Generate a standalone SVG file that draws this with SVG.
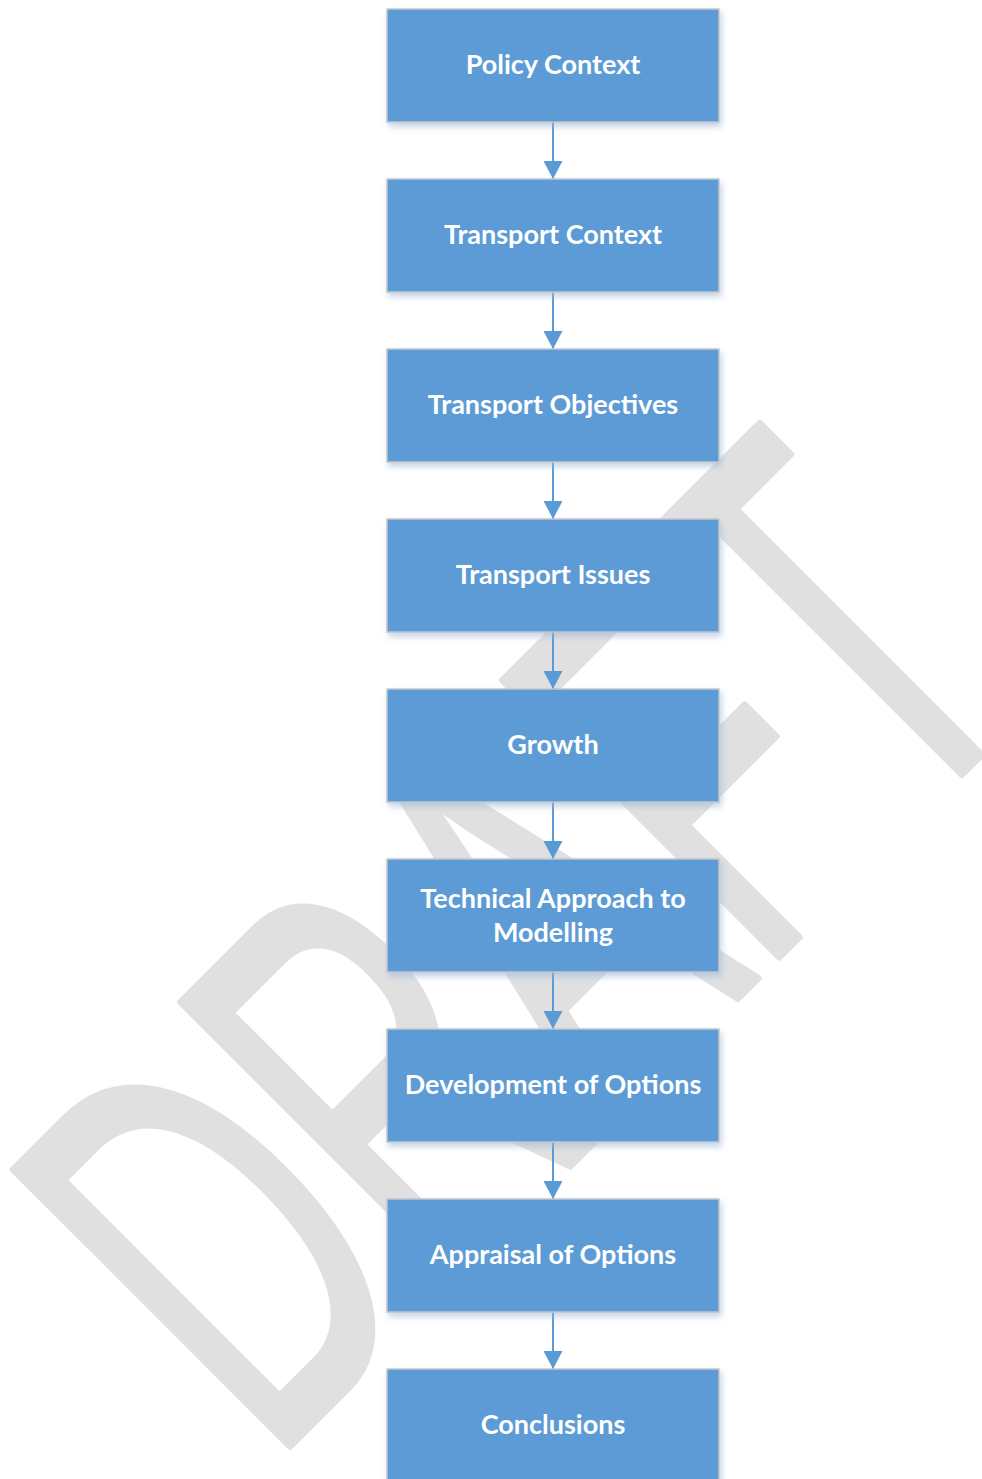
<svg xmlns="http://www.w3.org/2000/svg" width="982" height="1479" viewBox="0 0 982 1479">
<defs>
<style>
.box{fill:#5b9bd5;stroke:#c4c8cc;stroke-width:1.5;filter:url(#sh)}
.lbl{font-family:Lato,"Open Sans","Liberation Sans",sans-serif;font-weight:bold;font-size:27px;fill:#ffffff;text-anchor:middle}
.con{stroke:#5b9bd5;stroke-width:2;fill:none;marker-end:url(#ah)}
.wm{font-family:"Liberation Sans",Arial,sans-serif;font-size:568px;fill:#e0e0e0;stroke:#e0e0e0;stroke-width:6;stroke-linejoin:round}
</style>
<filter id="sh" x="-10%" y="-10%" width="125%" height="140%">
<feDropShadow dx="2" dy="4" stdDeviation="3" flood-color="#9fb7d8" flood-opacity="0.6"/>
</filter>
<marker id="ah" viewBox="0 0 18 19" refX="18" refY="9.5" markerWidth="18" markerHeight="19" markerUnits="userSpaceOnUse" orient="auto">
<path d="M0,0 L18,9.5 L0,19 z" fill="#5b9bd5"/>
</marker>
</defs>
<rect width="982" height="1479" fill="#ffffff"/>
<g id="watermark">
<text class="wm" vector-effect="non-scaling-stroke" transform="translate(270,1466) rotate(-45) scale(0.577,1)" x="0" y="0">DRAFT</text>
</g>
<g id="connectors">
<line class="con" x1="553" y1="122" x2="553" y2="179"/>
<line class="con" x1="553" y1="292" x2="553" y2="349"/>
<line class="con" x1="553" y1="462" x2="553" y2="519"/>
<line class="con" x1="553" y1="632" x2="553" y2="689"/>
<line class="con" x1="553" y1="802" x2="553" y2="859"/>
<line class="con" x1="553" y1="972" x2="553" y2="1029"/>
<line class="con" x1="553" y1="1142" x2="553" y2="1199"/>
<line class="con" x1="553" y1="1312" x2="553" y2="1369"/>
</g>
<g id="n1"><rect class="box" x="387" y="9" width="332" height="113"/><text class="lbl" x="553" y="74">Policy Context</text></g>
<g id="n2"><rect class="box" x="387" y="179" width="332" height="113"/><text class="lbl" x="553" y="244">Transport Context</text></g>
<g id="n3"><rect class="box" x="387" y="349" width="332" height="113"/><text class="lbl" x="553" y="414">Transport Objectives</text></g>
<g id="n4"><rect class="box" x="387" y="519" width="332" height="113"/><text class="lbl" x="553" y="584">Transport Issues</text></g>
<g id="n5"><rect class="box" x="387" y="689" width="332" height="113"/><text class="lbl" x="553" y="754">Growth</text></g>
<g id="n6"><rect class="box" x="387" y="859" width="332" height="113"/><text class="lbl" x="553" y="908">Technical Approach to</text><text class="lbl" x="553" y="942">Modelling</text></g>
<g id="n7"><rect class="box" x="387" y="1029" width="332" height="113"/><text class="lbl" x="553" y="1094">Development of Options</text></g>
<g id="n8"><rect class="box" x="387" y="1199" width="332" height="113"/><text class="lbl" x="553" y="1264">Appraisal of Options</text></g>
<g id="n9"><rect class="box" x="387" y="1369" width="332" height="113"/><text class="lbl" x="553" y="1434">Conclusions</text></g>
</svg>
